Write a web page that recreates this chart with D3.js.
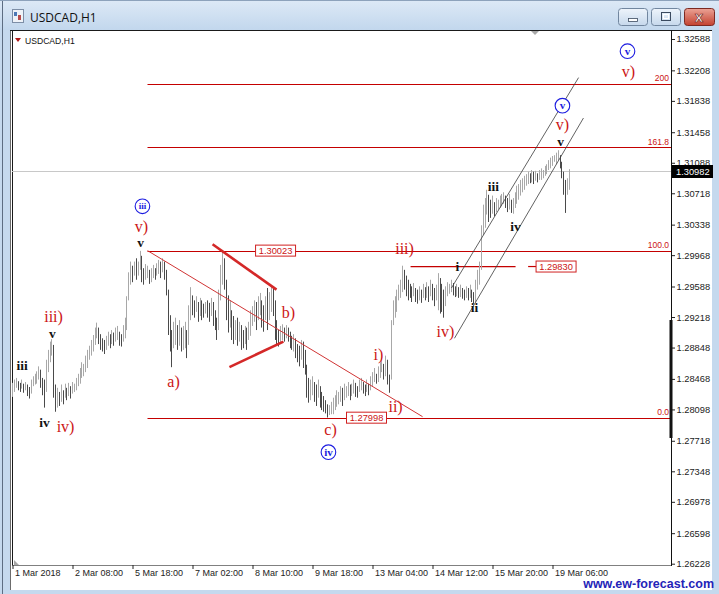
<!DOCTYPE html>
<html><head><meta charset="utf-8">
<script src="https://cdn.jsdelivr.net/npm/d3@7"></script>
<style>body{margin:0;background:#fff}svg{display:block}</style>
</head><body><svg id="c" width="719" height="594"></svg>
<script>
// ---------------- DATA ----------------
const symbol = "USDCAD,H1";
const highs = [
1.2842,1.2846,1.2848,1.2844,1.2842,1.2846,1.2841,1.2843,1.2840,1.2837,
1.2846,1.2850,1.2853,1.2856,1.2862,1.2858,1.2848,1.2846,1.2870,1.2882,
1.2892,1.2895,1.2888,1.2840,1.2836,1.2831,1.2840,1.2833,1.2841,1.2836,
1.2842,1.2838,1.2843,1.2841,1.2848,1.2853,1.2860,1.2867,1.2865,1.2875,
1.2882,1.2887,1.2894,1.2900,1.2909,1.2915,1.2909,1.2901,1.2896,1.2894,
1.2899,1.2904,1.2901,1.2906,1.2903,1.2909,1.2911,1.2904,1.2901,1.2912,
1.2921,1.2947,1.2976,1.2989,1.2984,1.2989,1.2993,1.2989,1.3002,1.2996,
1.2981,1.2986,1.2984,1.2979,1.2981,1.2985,1.2981,1.2987,1.2991,1.2989,
1.2993,1.2989,1.2979,1.2955,1.2924,1.2906,1.2916,1.2921,1.2912,1.2918,
1.2909,1.2911,1.2916,1.2906,1.2936,1.2958,1.2948,1.2942,1.2947,1.2940,
1.2945,1.2942,1.2938,1.2940,1.2942,1.2939,1.2945,1.2940,1.2930,1.2921,
1.2955,1.2985,1.3003,1.2993,1.2967,1.2948,1.2942,1.2930,1.2923,1.2918,
1.2921,1.2916,1.2912,1.2906,1.2911,1.2909,1.2916,1.2930,1.2935,1.2942,
1.2940,1.2947,1.2951,1.2942,1.2936,1.2947,1.2957,1.2952,1.2959,1.2957,
1.2942,1.2918,1.2906,1.2911,1.2913,1.2909,1.2912,1.2909,1.2904,1.2899,
1.2901,1.2896,1.2889,1.2887,1.2894,1.2892,1.2882,1.2864,1.2848,1.2846,
1.2850,1.2843,1.2840,1.2846,1.2838,1.2831,1.2826,1.2821,1.2816,1.2815,
1.2819,1.2824,1.2827,1.2833,1.2831,1.2838,1.2836,1.2841,1.2838,1.2843,
1.2840,1.2841,1.2846,1.2842,1.2838,1.2846,1.2848,1.2843,1.2840,1.2846,
1.2841,1.2850,1.2855,1.2860,1.2853,1.2862,1.2867,1.2872,1.2865,1.2875,
1.2870,1.2852,1.2918,1.2942,1.2947,1.2955,1.2961,1.2967,1.2984,1.2979,
1.2972,1.2967,1.2962,1.2959,1.2963,1.2957,1.2955,1.2959,1.2955,1.2962,
1.2958,1.2964,1.2959,1.2967,1.2962,1.2957,1.2961,1.2975,1.2969,1.2962,
1.2955,1.2959,1.2964,1.2962,1.2967,1.2963,1.2959,1.2962,1.2958,1.2961,
1.2957,1.2955,1.2959,1.2957,1.2961,1.2955,1.2952,1.2967,1.2979,1.2989,
1.3033,1.3058,1.3066,1.3076,1.3070,1.3064,1.3069,1.3061,1.3066,1.3064,
1.3069,1.3071,1.3073,1.3069,1.3066,1.3071,1.3064,1.3066,1.3073,1.3081,
1.3083,1.3088,1.3090,1.3093,1.3095,1.3098,1.3096,1.3100,1.3098,1.3099,
1.3096,1.3100,1.3102,1.3100,1.3105,1.3107,1.3112,1.3115,1.3117,1.3118,
1.3121,1.3124,1.3118,1.3110,1.3098,1.3088,1.3090,1.3101];
const lows = [
1.2825,1.2831,1.2836,1.2833,1.2831,1.2835,1.2830,1.2833,1.2826,1.2823,
1.2829,1.2838,1.2840,1.2841,1.2846,1.2836,1.2827,1.2812,1.2831,1.2855,
1.2867,1.2875,1.2824,1.2807,1.2812,1.2814,1.2819,1.2816,1.2824,1.2821,
1.2826,1.2823,1.2829,1.2831,1.2833,1.2838,1.2841,1.2848,1.2850,1.2855,
1.2860,1.2870,1.2875,1.2880,1.2888,1.2896,1.2889,1.2882,1.2880,1.2877,
1.2882,1.2887,1.2884,1.2889,1.2887,1.2892,1.2894,1.2887,1.2886,1.2892,
1.2896,1.2906,1.2942,1.2961,1.2964,1.2972,1.2967,1.2972,1.2979,1.2964,
1.2961,1.2967,1.2969,1.2962,1.2964,1.2969,1.2967,1.2972,1.2974,1.2969,
1.2976,1.2967,1.2948,1.2900,1.2880,1.2861,1.2884,1.2888,1.2882,1.2887,
1.2880,1.2882,1.2884,1.2872,1.2888,1.2918,1.2924,1.2921,1.2928,1.2916,
1.2923,1.2918,1.2921,1.2926,1.2921,1.2916,1.2923,1.2911,1.2906,1.2894,
1.2906,1.2942,1.2961,1.2955,1.2918,1.2903,1.2909,1.2894,1.2889,1.2894,
1.2887,1.2892,1.2882,1.2884,1.2889,1.2882,1.2894,1.2899,1.2911,1.2916,
1.2906,1.2918,1.2924,1.2909,1.2904,1.2918,1.2906,1.2918,1.2928,1.2923,
1.2894,1.2888,1.2886,1.2889,1.2894,1.2892,1.2896,1.2892,1.2884,1.2882,
1.2880,1.2872,1.2867,1.2862,1.2870,1.2860,1.2852,1.2824,1.2818,1.2821,
1.2827,1.2819,1.2814,1.2824,1.2812,1.2809,1.2807,1.2805,1.2800,1.2803,
1.2804,1.2804,1.2809,1.2813,1.2816,1.2819,1.2814,1.2821,1.2824,1.2826,
1.2821,1.2826,1.2829,1.2825,1.2824,1.2831,1.2833,1.2829,1.2826,1.2831,
1.2827,1.2833,1.2838,1.2843,1.2841,1.2843,1.2848,1.2855,1.2846,1.2850,
1.2840,1.2830,1.2846,1.2912,1.2921,1.2928,1.2942,1.2945,1.2952,1.2955,
1.2947,1.2942,1.2945,1.2940,1.2947,1.2940,1.2938,1.2942,1.2939,1.2945,
1.2942,1.2945,1.2940,1.2947,1.2942,1.2935,1.2942,1.2930,1.2926,1.2928,
1.2921,1.2935,1.2947,1.2950,1.2952,1.2948,1.2946,1.2947,1.2945,1.2946,
1.2944,1.2942,1.2945,1.2942,1.2945,1.2940,1.2938,1.2940,1.2955,1.2961,
1.2979,1.3021,1.3030,1.3046,1.3037,1.3042,1.3047,1.3044,1.3049,1.3052,
1.3054,1.3056,1.3059,1.3054,1.3049,1.3052,1.3048,1.3047,1.3054,1.3059,
1.3064,1.3069,1.3073,1.3076,1.3081,1.3083,1.3084,1.3085,1.3083,1.3087,
1.3085,1.3088,1.3088,1.3090,1.3093,1.3095,1.3100,1.3102,1.3105,1.3110,
1.3107,1.3112,1.3102,1.3090,1.3070,1.3048,1.3070,1.3076];
const yTickValues = [1.32588,1.32208,1.31838,1.31458,1.31088,1.30718,1.30338,1.29968,1.29588,
  1.29218,1.28848,1.28468,1.28098,1.27718,1.27348,1.26978,1.26598,1.26228];
const xTickLabels = ["1 Mar 2018","2 Mar 08:00","5 Mar 18:00","7 Mar 02:00","8 Mar 10:00",
  "9 Mar 18:00","13 Mar 04:00","14 Mar 12:00","15 Mar 20:00","19 Mar 06:00"];
const barsPerLabel = 32;
const lastPrice = 1.30982;
const fibZero = 1.27998, fibHundred = 1.30023, fibStartBar = 72;
const fibLevels = [0, 100, 161.8, 200];
const fibLevelText = ["0.0", "100.0", "161.8", "200"];
const priceBoxes = [ {bar:140.3, price:1.30023, text:"1.30023"},
                     {bar:188.8, price:1.27998, text:"1.27998"},
                     {bar:289.9, price:1.29830, text:"1.29830"} ];
const waveILine = {from:212.3, to:268.3, dashFrom:275, dashTo:280, price:1.29830};
const blackLabels = [ ["iii",5.2,1.2862],["v",21.3,1.2901],["iv",17.1,1.2793],["v",68.3,1.3012],
  ["i",237.3,1.2982],["ii",246.4,1.2933],["iii",256.5,1.3079],["iv",268.3,1.3031],["v",292.3,1.3134] ];
const redLabels = [ ["iii)",21.9,1.2922],["iv)",28.3,1.2788],["v)",68.8,1.3031],["a)",85.9,1.2843],
  ["b)",147.2,1.2927],["c)",169.6,1.2785],["i)",195.2,1.2876],["ii)",204.3,1.2813],
  ["iii)",209.1,1.3004],["iv)",230.9,1.2903],["v)",293.3,1.3154],["v)",328.5,1.3219] ];
const circledLabels = [ ["iii",69.3,1.3056],["iv",168.5,1.2758],["v",293.3,1.3178],["v",328.0,1.3244] ];
const trendLine = [[72,1.30023],[218.7,1.2801]];
const triangleUpper = [[106.7,1.3010],[140.8,1.2955]];
const triangleLower = [[115.7,1.2861],[144.5,1.2892]];
const channelUpper = [[234.1,1.2957],[301.9,1.3212]];
const channelLower = [[235.7,1.2896],[304.5,1.3163]];

// ---------------- LAYOUT ----------------
const W = 719, H = 594;
const P = {left:12, right:671, top:30, bottom:565};
const svg = d3.select("#c");
const x = d3.scaleLinear().domain([0, barsPerLabel]).range([12.5, 72.5]);
const y = d3.scaleLinear().domain([1.26228, 1.32588]).range([563.7, 39]);
const RED = "#cc1414", LINE_RED = "#c40000", BLUE = "#1c1ce0";
const sans = "'Liberation Sans', Arial, sans-serif";
const serif = "'Liberation Serif', 'Times New Roman', serif";

const defs = svg.append("defs");
function grad(id, c1, c2){
  const g = defs.append("linearGradient").attr("id",id).attr("x1",0).attr("y1",0).attr("x2",0).attr("y2",1);
  g.append("stop").attr("offset",0).attr("stop-color",c1);
  g.append("stop").attr("offset",1).attr("stop-color",c2);
}
grad("tb","#dde9f6","#c2d7ed");
grad("btn","#eef4fb","#c6d8ec");
grad("cls","#eba396","#c3412f");
defs.append("clipPath").attr("id","plotclip").append("rect")
  .attr("x",P.left).attr("y",P.top).attr("width",P.right-P.left).attr("height",P.bottom-P.top);

// window frame
svg.append("rect").attr("width",W).attr("height",H).attr("fill","#c5d9ee");
svg.append("rect").attr("width",W).attr("height",30).attr("fill","url(#tb)");
svg.append("line").attr("x1",2.5).attr("x2",2.5).attr("y1",0).attr("y2",H).attr("stroke","#5d6d82");
svg.append("line").attr("x1",0).attr("x2",W).attr("y1",0.5).attr("y2",0.5).attr("stroke","#8da2bb");
// title icon
const ic = svg.append("g");
ic.append("rect").attr("x",12.5).attr("y",9.5).attr("width",11).attr("height",13).attr("fill","#eef2f8").attr("stroke","#7d8ea6");
ic.append("rect").attr("x",14).attr("y",12).attr("width",3).attr("height",4).attr("fill","#4d78b5");
ic.append("rect").attr("x",18).attr("y",15).attr("width",3).attr("height",5).attr("fill","#b84b4b");
svg.append("text").attr("x",30).attr("y",22).text(symbol)
  .attr("font-family","'Open Sans', 'Noto Sans', sans-serif").attr("font-size",12).attr("fill","#101010");
// window buttons
function button(x0, w, fill, stroke){
  return svg.append("rect").attr("x",x0+0.5).attr("y",8.5).attr("width",w).attr("height",17).attr("rx",3)
    .attr("fill",fill).attr("stroke",stroke);
}
button(618,29,"url(#btn)","#71869f");
svg.append("rect").attr("x",628.5).attr("y",18.5).attr("width",9).attr("height",3).attr("fill","#fff").attr("stroke","#3b4a5f").attr("stroke-width",0.8);
button(651,29,"url(#btn)","#71869f");
svg.append("rect").attr("x",661.5).attr("y",12.5).attr("width",9).attr("height",8).attr("fill","none").attr("stroke","#3b4a5f").attr("stroke-width",1);
svg.append("rect").attr("x",663.5).attr("y",14.5).attr("width",5).attr("height",4).attr("fill","none").attr("stroke","#fff").attr("stroke-width",1);
button(684,30,"url(#cls)","#7c2a22");
svg.append("text").attr("x",699).attr("y",22).attr("text-anchor","middle").text("x")
  .attr("font-family",sans).attr("font-weight","bold").attr("font-size",15).attr("fill","#fff").attr("stroke","#6a2018").attr("stroke-width",0.6);

// chart panel
svg.append("rect").attr("x",10).attr("y",30).attr("width",702).attr("height",560).attr("fill","#fff");
svg.append("line").attr("x1",10.5).attr("x2",10.5).attr("y1",30).attr("y2",590).attr("stroke","#6c6c6c");
svg.append("line").attr("x1",12.5).attr("x2",12.5).attr("y1",30).attr("y2",P.bottom).attr("stroke","#1a1a1a");
svg.append("line").attr("x1",10).attr("x2",712).attr("y1",30.5).attr("y2",30.5).attr("stroke","#1a1a1a");
svg.append("line").attr("x1",12).attr("x2",P.right).attr("y1",P.bottom+0.5).attr("y2",P.bottom+0.5).attr("stroke","#808080");

const plot = svg.append("g").attr("clip-path","url(#plotclip)");

// current price line
plot.append("line").attr("x1",P.left).attr("x2",P.right)
  .attr("y1",Math.round(y(lastPrice))+0.5).attr("y2",Math.round(y(lastPrice))+0.5)
  .attr("stroke","#c8c8c8");

// fibonacci levels
const fibPrice = l => fibZero + l/100*(fibHundred - fibZero);
plot.selectAll("line.fib").data(fibLevels).join("line").attr("class","fib")
  .attr("x1",x(fibStartBar)).attr("x2",P.right)
  .attr("y1",d=>Math.round(y(fibPrice(d)))+0.5).attr("y2",d=>Math.round(y(fibPrice(d)))+0.5)
  .attr("stroke",LINE_RED).attr("stroke-width",1.2);
plot.selectAll("text.fibt").data(fibLevels).join("text").attr("class","fibt")
  .attr("x",P.right-2).attr("y",d=>y(fibPrice(d))-2.5).attr("text-anchor","end")
  .text((d,i)=>fibLevelText[i]).attr("font-family",sans).attr("font-size",8.5).attr("fill",RED);

// wave i horizontal line
plot.append("line").attr("x1",x(waveILine.from)).attr("x2",x(waveILine.to))
  .attr("y1",y(waveILine.price)).attr("y2",y(waveILine.price)).attr("stroke",LINE_RED).attr("stroke-width",1.2);
plot.append("line").attr("x1",x(waveILine.dashFrom)).attr("x2",x(waveILine.dashTo))
  .attr("y1",y(waveILine.price)).attr("y2",y(waveILine.price)).attr("stroke",LINE_RED).attr("stroke-width",1.2);

// bars
const bars = highs.map((h,i)=>({i, h, l:lows[i]}));
bars.forEach((b,i)=>{
  const mid = (b.h+b.l)/2, prev = i ? (bars[i-1].h+bars[i-1].l)/2 : mid;
  b.up = mid >= prev;
});
plot.selectAll("line.bar").data(bars).join("line").attr("class","bar")
  .attr("x1",d=>Math.floor(x(d.i))+0.5).attr("x2",d=>Math.floor(x(d.i))+0.5)
  .attr("y1",d=>y(d.h)).attr("y2",d=>y(d.l))
  .attr("stroke",d=>d.up ? "#a8a8a8" : "#4a4a4a").attr("stroke-width",1);

// trend lines
const lineGen = d3.line().x(d=>x(d[0])).y(d=>y(d[1]));
plot.append("path").attr("d",lineGen(trendLine)).attr("stroke","#d03434").attr("stroke-width",1).attr("fill","none");
[triangleUpper, triangleLower].forEach(t=>plot.append("path").attr("d",lineGen(t))
  .attr("stroke","#d42828").attr("stroke-width",2.6).attr("fill","none"));
[channelUpper, channelLower].forEach(t=>plot.append("path").attr("d",lineGen(t))
  .attr("stroke","#3a3a3a").attr("stroke-width",0.8).attr("fill","none"));

// price boxes
const pb = plot.selectAll("g.pb").data(priceBoxes).join("g").attr("class","pb")
  .attr("transform",d=>`translate(${x(d.bar)},${y(d.price)})`);
pb.append("rect").attr("x",-20).attr("y",-5.5).attr("width",40).attr("height",11)
  .attr("fill","#fff").attr("stroke","#d02020").attr("stroke-width",1);
pb.append("text").attr("text-anchor","middle").attr("dy","0.36em").text(d=>d.text)
  .attr("font-family",sans).attr("font-size",9.3).attr("fill",RED);

// wave labels
plot.selectAll("text.bl").data(blackLabels).join("text").attr("class","bl")
  .attr("x",d=>x(d[1])).attr("y",d=>y(d[2])).attr("dy","0.3em").attr("text-anchor","middle").text(d=>d[0])
  .attr("font-family",serif).attr("font-weight","bold").attr("font-size",13.5).attr("fill","#111");
plot.selectAll("text.rl").data(redLabels).join("text").attr("class","rl")
  .attr("x",d=>x(d[1])).attr("y",d=>y(d[2])).attr("dy","0.3em").attr("text-anchor","middle").text(d=>d[0])
  .attr("font-family",serif).attr("font-size",16).attr("fill",RED);
const cl = plot.selectAll("g.cl").data(circledLabels).join("g").attr("class","cl")
  .attr("transform",d=>`translate(${x(d[1])},${y(d[2])})`);
cl.append("circle").attr("r",7.3).attr("fill","#fff").attr("stroke",BLUE).attr("stroke-width",1.1);
cl.append("text").attr("text-anchor","middle").attr("dy","0.32em").text(d=>d[0])
  .attr("font-family",serif).attr("font-weight","bold").attr("font-size",d=>d[0].length>2?9:11).attr("fill",BLUE);

// symbol label and markers
svg.append("path").attr("d","M15,38 L21,38 L18,42 Z").attr("fill","#b01818");
svg.append("text").attr("x",25).attr("y",44).text(symbol).attr("font-family",sans).attr("font-size",8.6).attr("fill","#111");
svg.append("path").attr("d","M531,31 L539,31 L535,35 Z").attr("fill","#a8a8a8");
svg.append("path").attr("d","M14,560 L14,565 L19,565 Z").attr("fill","#a8a8a8");

// right price axis
const yAxis = d3.axisRight(y).tickValues(yTickValues).tickFormat(d3.format(".5f")).tickSize(4).tickPadding(1.5);
const ya = svg.append("g").attr("transform",`translate(${P.right},0)`).call(yAxis);
ya.select(".domain").remove();
ya.selectAll("line").attr("stroke","#222");
ya.selectAll("text").attr("font-family",sans).attr("font-size",9.3).attr("fill","#222");
svg.append("line").attr("x1",P.right+0.5).attr("x2",P.right+0.5).attr("y1",30).attr("y2",P.bottom+1).attr("stroke","#111");
svg.append("rect").attr("x",P.right-1.5).attr("y",320).attr("width",3).attr("height",118).attr("fill","#111");
// last price tag
svg.append("rect").attr("x",P.right+1).attr("y",Math.round(y(lastPrice))-6).attr("width",41).attr("height",13).attr("fill","#000");
svg.append("text").attr("x",P.right+5).attr("y",y(lastPrice)).attr("dy","0.36em").text(d3.format(".5f")(lastPrice))
  .attr("font-family",sans).attr("font-size",9.3).attr("fill","#fff");

// time axis
const xAxis = d3.axisBottom(x).tickValues(xTickLabels.map((d,i)=>i*barsPerLabel))
  .tickFormat((d,i)=>xTickLabels[i]).tickSize(4).tickPadding(1);
const xa = svg.append("g").attr("transform",`translate(0,${P.bottom})`).call(xAxis);
xa.select(".domain").remove();
xa.selectAll("line").attr("stroke","#222");
xa.selectAll("text").attr("text-anchor","start").attr("dx","2").attr("font-family",sans).attr("font-size",9).attr("fill","#222");

// watermark
svg.append("text").attr("x",714).attr("y",588).attr("text-anchor","end").text("www.ew-forecast.com")
  .attr("font-family",sans).attr("font-weight","bold").attr("font-size",12.5).attr("fill","#2424b8");
</script></body></html>
